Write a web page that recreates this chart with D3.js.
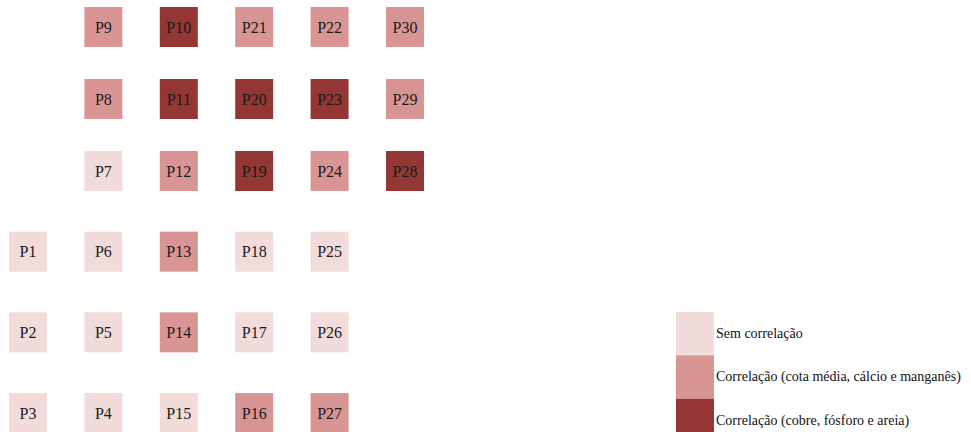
<!DOCTYPE html>
<html><head><meta charset="utf-8">
<script src="https://cdn.jsdelivr.net/npm/d3@7"></script>
<style>html,body{margin:0;padding:0;background:#fff;}svg{display:block;}</style>
</head><body>
<svg id="chart" width="971" height="432"></svg>
<script>
// Categories
const categories = ["Sem correlação", "Correlação (cota média, cálcio e manganês)", "Correlação (cobre, fósforo e areia)"];
const categoryColors = ["#f2dcdb", "#d99594", "#943634"];
// Points: label, grid row (top = 0), grid column, category index
const pointLabels = ["P9","P10","P21","P22","P30",
                     "P8","P11","P20","P23","P29",
                     "P7","P12","P19","P24","P28",
                     "P1","P6","P13","P18","P25",
                     "P2","P5","P14","P17","P26",
                     "P3","P4","P15","P16","P27"];
const pointRows = [0,0,0,0,0,
                   1,1,1,1,1,
                   2,2,2,2,2,
                   3,3,3,3,3,
                   4,4,4,4,4,
                   5,5,5,5,5];
const pointCols = [1,2,3,4,5,
                   1,2,3,4,5,
                   1,2,3,4,5,
                   0,1,2,3,4,
                   0,1,2,3,4,
                   0,1,2,3,4];
const pointCategory = [1,2,1,1,1,
                       1,2,2,2,1,
                       0,1,2,1,2,
                       0,0,1,0,0,
                       0,0,1,0,0,
                       0,0,0,1,1];

const data = pointLabels.map((l,i)=>({label:l,row:pointRows[i],col:pointCols[i],cat:pointCategory[i]}));

const svg = d3.select("#chart");
const x = d3.scaleLinear().domain([0,5]).range([28,405]);
const y = d3.scaleLinear().domain([0,2,5]).range([27,171,413]);
const color = d3.scaleOrdinal().domain(d3.range(categories.length)).range(categoryColors);
const cw = 38, ch = 40;

const g = svg.append("g");
const cells = g.selectAll("g.cell").data(data).join("g").attr("class","cell")
  .attr("transform", d => `translate(${x(d.col)},${y(d.row)})`);
cells.append("rect")
  .attr("x",-cw/2).attr("y",-ch/2).attr("width",cw).attr("height",ch)
  .attr("fill", d => color(d.cat));
cells.append("text")
  .attr("text-anchor","middle").attr("dominant-baseline","central")
  .attr("font-family","'Liberation Serif','Times New Roman',serif")
  .attr("font-size",16).attr("fill","#1a1a1a")
  .text(d => d.label);

// Legend
const ly = d3.scaleBand().domain(d3.range(categories.length)).range([312,442]).padding(0);
const leg = svg.append("g").selectAll("g").data(categories).join("g")
  .attr("transform",(d,i)=>`translate(676,${ly(i)})`);
leg.append("rect").attr("width",38).attr("height",ly.bandwidth())
  .attr("fill",(d,i)=>color(i));
leg.append("text").attr("x",40).attr("y",ly.bandwidth()/2)
  .attr("dominant-baseline","central")
  .attr("font-family","'Liberation Serif','Times New Roman',serif")
  .attr("font-size",14).attr("fill","#111")
  .text(d=>d);
</script>
</body></html>
